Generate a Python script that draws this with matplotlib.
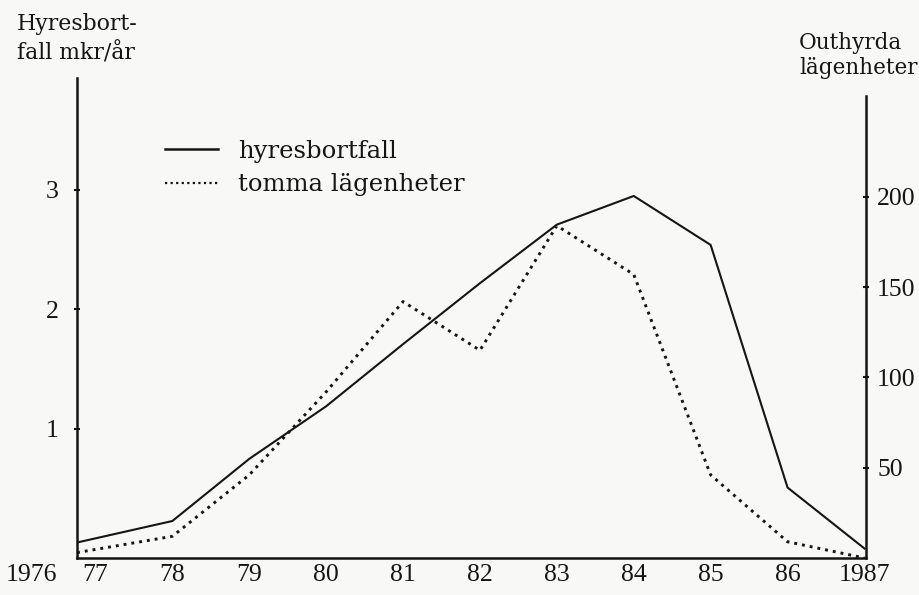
import matplotlib.pyplot as plt
from matplotlib.lines import Line2D

# values
years = [1976.76, 1978, 1979, 1980, 1981, 1982, 1983, 1984, 1985, 1986, 1987]
hyresbortfall = [0.05, 0.23, 0.75, 1.19, 1.71, 2.22, 2.71, 2.95, 2.54, 0.51, 0.0]   # mkr/år
tomma = [3, 12, 46, 92, 142, 115, 184, 157, 46, 9, 0]                              # lägenheter

tick_years = [1977, 1978, 1979, 1980, 1981, 1982, 1983, 1984, 1985, 1986, 1987]
tick_labels = ['77', '78', '79', '80', '81', '82', '83', '84', '85', '86', '1987']
left_ticks = [1, 2, 3]
right_ticks = [50, 100, 150, 200]

plt.rcParams['font.family'] = ['DejaVu Serif']
numfont = 'Liberation Serif'
ink = '#151515'
paper = '#f8f8f6'

fig = plt.figure(figsize=(9.2, 5.95), dpi=100, facecolor=paper)
ax = fig.add_axes([0.0837, 0.0622, 0.8576, 0.8067])
ax.set_facecolor(paper)
ax2 = ax.twinx()

ax.plot(years, hyresbortfall, color=ink, lw=1.5, label='hyresbortfall')
ax2.plot(years, tomma, color=ink, lw=2.1, linestyle=(0, (1, 1.7)), label='tomma lägenheter')

ax.set_xlim(1976.76, 1987.02)
ax.set_ylim(-0.0795, 3.937)
ax2.set_ylim(0, 265.8)

for a in (ax, ax2):
    a.spines['top'].set_visible(False)
    for s in a.spines.values():
        s.set_linewidth(1.8)
        s.set_color(ink)
ax.spines['right'].set_visible(False)
ax2.spines['left'].set_visible(False)
ax2.spines['bottom'].set_visible(False)
ax2.spines['right'].set_bounds(0, 256)

ax.set_xticks(tick_years)
ax.set_xticklabels(tick_labels)
ax.tick_params(axis='x', length=0, pad=4, labelsize=18.5, colors=ink, labelfontfamily=numfont)
ax.set_yticks(left_ticks)
ax.tick_params(axis='y', direction='inout', length=5, width=1.5, pad=11, labelsize=18.5,
               colors=ink, labelfontfamily=numfont)
ax2.set_yticks(right_ticks)
ax2.tick_params(axis='y', direction='inout', length=4, width=1.5, pad=6, labelsize=18.5,
                colors=ink, labelfontfamily=numfont)

ax.annotate('1976', xy=(0, 0), xycoords='axes fraction', xytext=(-14, -4),
            textcoords='offset points', ha='right', va='top', fontsize=18.5, color=ink,
            family=numfont)

fig.text(17 / 920, 1 - 13 / 595, 'Hyresbort-\nfall mkr/år', ha='left', va='top',
         fontsize=15.8, color=ink, linespacing=1.38)
fig.text(799 / 920, 1 - 32 / 595, 'Outhyrda\nlägenheter', ha='left', va='top',
         fontsize=15.5, color=ink, linespacing=1.17)

handles = [Line2D([], [], color=ink, lw=1.8),
           Line2D([], [], color=ink, lw=1.6, linestyle=(0, (1, 1.5)))]
ax.legend(handles, ['hyresbortfall', 'tomma lägenheter'], loc='upper left',
          bbox_to_anchor=(165 / 920, 1 - 140 / 595), bbox_transform=fig.transFigure,
          frameon=False, fontsize=17.5, handlelength=2.2, handletextpad=0.8,
          labelspacing=0.42, borderpad=0, borderaxespad=0, labelcolor=ink)

fig.savefig('out.png', dpi=100, facecolor=paper)
